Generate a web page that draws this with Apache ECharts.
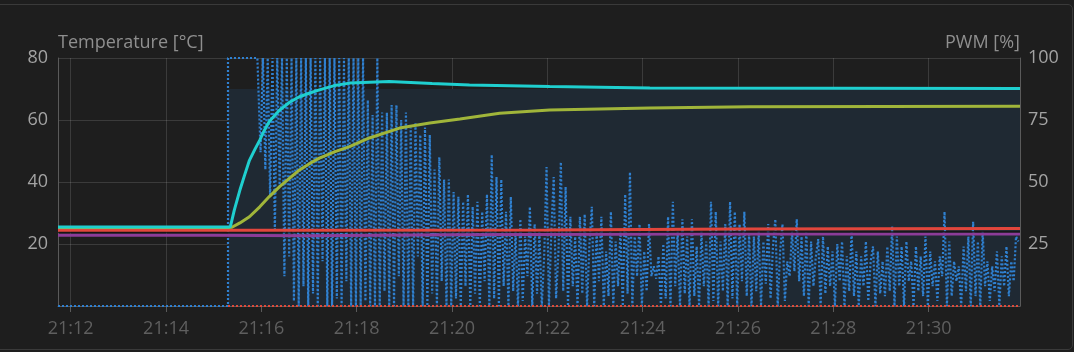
<!DOCTYPE html>
<html><head><meta charset="utf-8">
<script src="https://cdn.jsdelivr.net/npm/echarts@6/dist/echarts.min.js"></script>
<style>
html,body{margin:0;padding:0;background:#1e1e1e;width:1074px;height:352px;overflow:hidden;}
#frame{position:absolute;left:-6px;top:4px;width:1079px;height:346px;border:1px solid #3a3a3a;border-radius:5px;box-sizing:border-box;}
#c{position:absolute;left:0;top:0;width:1074px;height:352px;}
</style></head><body><div id="frame"></div><div id="c"></div>
<script>
// ---- data ----
const xRange = ['21:11:44', '21:31:55'];
const xTicks = ['21:12','21:14','21:16','21:18','21:20','21:22','21:24','21:26','21:28','21:30'];

const setpointT = ['21:15:18', '21:31:55'];
const setpointV = [70, 70];

const cyanT = ['21:11:44','21:15:18','21:15:21','21:15:26','21:15:33','21:15:39','21:15:45','21:15:52','21:15:58','21:16:04','21:16:10','21:16:23','21:16:36','21:16:48','21:17:01','21:17:13','21:17:32','21:17:51','21:18:41','21:19:35','21:20:22','21:22:03','21:24:09','21:31:55'];
const cyanV = [25.5,25.5,25.6,31,37.4,42.3,47,50.6,53.5,56.8,59.5,63.2,65.8,67.5,68.7,69.7,71.1,71.9,72.4,71.8,71.3,70.8,70.3,70.2];

const greenT = ['21:11:44','21:15:18','21:15:23','21:15:33','21:15:45','21:15:58','21:16:10','21:16:23','21:16:36','21:16:48','21:17:01','21:17:13','21:17:32','21:17:51','21:18:16','21:18:54','21:19:32','21:20:10','21:21:00','21:22:03','21:24:09','21:26:15','21:31:55'];
const greenV = [25.3,25.3,25.4,26.8,28.8,32,35.3,38.5,41.3,43.9,46,47.7,49.7,51.4,54.2,57.4,59,60.3,62.2,63.2,63.9,64.3,64.4];

const redT = ['21:11:44','21:16:00','21:22:00','21:26:00','21:31:55'];
const redV = [24.4,24.4,24.5,24.8,25.0];

const darkT = ['21:11:44','21:31:55'];
const darkV = [23.8,23.9];

const purpleT = ['21:11:44','21:15:00','21:17:00','21:20:00','21:25:00','21:31:55'];
const purpleV = [22.8,22.8,22.7,23.0,23.2,23.2];

const pwmHeadT = ['21:11:44','21:15:18','21:15:18','21:15:55'];
const pwmHeadV = [0, 0, 100, 100];
const pwmStart = '21:15:56';
const pwmStepSec = 3;
const pwmValues = [
 100,62,100,55,100,44,100,30,100,48,
 100,12,100,20,100,2,100,0,100,8,
 100,0,100,5,100,0,100,18,100,0,
 100,0,100,3,100,0,100,10,100,0,
 100,0,100,0,100,2,83,0,77,0,
 100,0,78,6,78,0,81,0,81,12,
 75,0,78,0,72,0,74,20,69,0,
 72,0,69,5,55,0,60,10,51,0,
 51,0,46,3,44,0,42,8,45,0,
 40,5,42,0,38,10,45,0,61,3,
 52,0,51,8,38,0,44,6,30,0,
 35,2,28,12,40,0,33,5,30,0,
 20,56,0,30,52,3,22,58,6,48,
 0,36,8,28,0,36,5,37,0,25,
 40,0,30,10,36,0,22,4,38,0,
 26,8,30,0,45,5,54,0,28,12,
 33,0,22,6,33,12,16,11,20,0,
 25,3,36,0,42,8,30,0,35,5,
 28,0,35,4,24,0,30,8,26,0,
 42,2,38,0,26,6,33,0,42,3,
 38,0,33,10,38,4,29,0,28,6,
 30,0,26,9,33,3,24,35,0,22,
 33,2,18,12,30,14,35,10,28,4,
 30,0,26,8,20,27,0,28,5,24,
 8,22,0,25,10,26,0,20,6,30,
 4,22,0,20,8,26,2,18,24,0,
 22,5,18,4,24,6,32,0,28,8,
 24,0,26,10,18,0,24,6,20,4,
 28,0,22,8,18,2,20,12,38,0,
 26,4,18,10,16,0,24,6,28,0,
 34,4,26,0,30,8,18,2,16,6,
 22,0,20,8,24,4,18,10,28,26
];
const pwm2T = ['21:15:18','21:31:55'];
const pwm2V = [0, 0];

// ---- helpers ----
function toSec(s){ const p = s.split(':').map(Number); return (p[0]-21)*3600 + p[1]*60 + (p[2]||0); }
function pair(T, V){ return T.map((t,i)=>[toSec(t), V[i]]); }
function fmt(v){ const h = 21 + Math.floor(v/3600); const m = Math.floor((v%3600)/60); return h + ':' + String(m).padStart(2,'0'); }

const pwmData = pair(pwmHeadT, pwmHeadV).concat(pwmValues.map((v,i)=>[toSec(pwmStart) + i*pwmStepSec, v]));
const tickVals = xTicks.map(toSec);

const gridCol = 'rgba(255,255,255,0.13)';
const axisCol = '#5a5a5a';
const font = '"Open Sans", "Noto Sans", sans-serif';

function line(name, data, color, width, yIdx, extra){
  return Object.assign({name, type:'line', data, yAxisIndex:yIdx, showSymbol:false, symbol:'none',
    lineStyle:{color, width}, itemStyle:{color}, silent:true}, extra||{});
}

const chart = echarts.init(document.getElementById('c'), null, {renderer:'canvas'});
chart.setOption({
  backgroundColor:'transparent',
  animation:false,
  textStyle:{fontFamily:font},
  grid:{left:58, right:54, top:58, bottom:46, containLabel:false},
  xAxis:{
    type:'value', min:toSec(xRange[0]), max:toSec(xRange[1]),
    axisLine:{show:true, lineStyle:{color:axisCol, width:1}},
    axisTick:{show:true, customValues:tickVals, length:6, lineStyle:{color:axisCol}},
    axisLabel:{customValues:tickVals, formatter:fmt, color:'#5f5f5f', fontSize:18, margin:14, fontFamily:font},
    splitLine:{show:true, lineStyle:{color:gridCol, width:1}}
  },
  yAxis:[{
    type:'value', min:0, max:80, interval:20,
    name:'Temperature [°C]', nameLocation:'end', nameGap:6,
    nameTextStyle:{align:'left', color:'#8f8f8f', fontSize:18, fontFamily:font},
    axisLine:{show:true, lineStyle:{color:axisCol}},
    axisTick:{show:false},
    axisLabel:{color:'#a3a3a3', fontSize:18, margin:10, showMinLabel:false, fontFamily:font},
    splitLine:{show:true, lineStyle:{color:gridCol, width:1}}
  },{
    type:'value', min:0, max:100, interval:25, position:'right',
    name:'PWM [%]', nameLocation:'end', nameGap:6,
    nameTextStyle:{align:'right', color:'#8f8f8f', fontSize:18, fontFamily:font},
    axisLine:{show:true, lineStyle:{color:axisCol}},
    axisTick:{show:false},
    axisLabel:{color:'#a3a3a3', fontSize:18, margin:8, showMinLabel:false, fontFamily:font},
    splitLine:{show:false}
  }],
  series:[
    line('Setpoint', pair(setpointT, setpointV), '#1f2933', 0, 0, {areaStyle:{color:'#1f2933', opacity:1}, z:1}),
    line('PWM', pwmData, '#2f80d0', 2, 1, {lineStyle:{color:'#2f80d0', width:2.2, type:[2,2]}, z:2}),
    line('PWM2', pair(pwm2T, pwm2V), '#e04a3a', 2, 1, {lineStyle:{color:'#e04a3a', width:2, type:[2,2]}, z:3}),
    line('Purple', pair(purpleT, purpleV), '#8c3c98', 3, 0, {z:4}),
    line('Dark', pair(darkT, darkV), '#141414', 1.2, 0, {z:4}),
    line('Red', pair(redT, redV), '#e2463c', 3, 0, {z:5}),
    line('Green', pair(greenT, greenV), '#a0b53a', 3, 0, {z:6}),
    line('Cyan', pair(cyanT, cyanV), '#1fcfcf', 3, 0, {z:7})
  ]
});
</script></body></html>
